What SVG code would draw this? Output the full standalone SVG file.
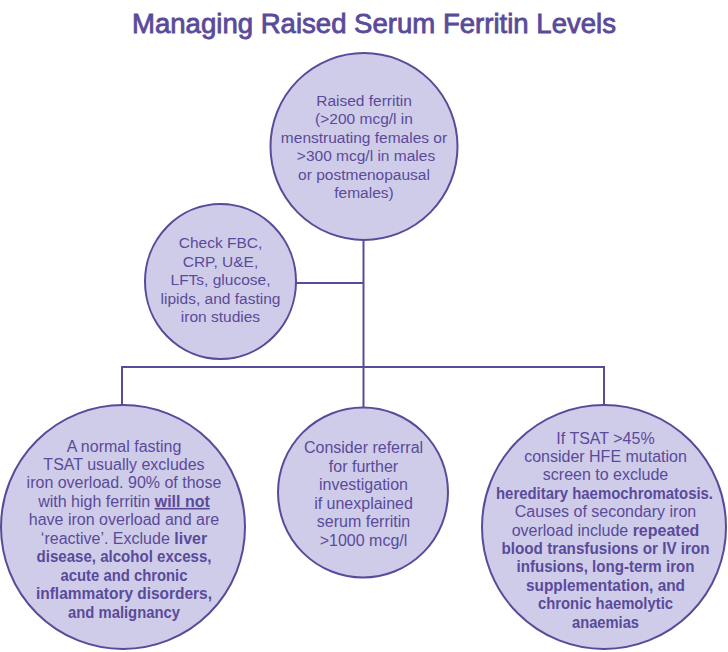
<svg xmlns="http://www.w3.org/2000/svg" width="728" height="652" viewBox="0 0 728 652">
<style>
  .node { fill: #cfcce9; stroke: #5a4a9a; stroke-width: 2; }
  .conn { stroke: #5a4a9a; stroke-width: 2; fill: none; }
  text { font-family: "Liberation Sans", Arial, sans-serif; fill: #5a4a9a; text-anchor: middle; }
  .t15 { font-size: 15.5px; }
  .t16 { font-size: 16px; }
  .b { font-weight: bold; }
  .title { font-size: 27px; stroke: #5a4a9a; stroke-width: 0.8; }
</style>
<rect width="728" height="652" fill="#ffffff"/>
<text class="title" x="374" y="32.5" textLength="484" lengthAdjust="spacingAndGlyphs">Managing Raised Serum Ferritin Levels</text>

<g id="connectors">
  <line class="conn" x1="363.5" y1="239" x2="363.5" y2="367"/>
  <line class="conn" x1="296" y1="283" x2="363.5" y2="283"/>
  <polyline class="conn" points="122,406 122,367 604,367 604,406"/>
  <line class="conn" x1="363.5" y1="367" x2="363.5" y2="407"/>
</g>

<g id="node-raised">
  <circle class="node" cx="364" cy="146.5" r="93.5"/>
  <text class="t15" x="364" y="105.5">Raised ferritin</text>
  <text class="t15" x="364" y="124">(&gt;200 mcg/l in</text>
  <text class="t15" x="364" y="142.5">menstruating females or</text>
  <text class="t15" x="366" y="161">&gt;300 mcg/l in males</text>
  <text class="t15" x="364" y="179.5">or postmenopausal</text>
  <text class="t15" x="364" y="198">females)</text>
</g>

<g id="node-check">
  <ellipse class="node" cx="220.5" cy="281.5" rx="75.5" ry="77.5"/>
  <text class="t15" x="220.5" y="248">Check FBC,</text>
  <text class="t15" x="220.5" y="266.5">CRP, U&amp;E,</text>
  <text class="t15" x="220.5" y="285">LFTs, glucose,</text>
  <text class="t15" x="220.5" y="303.5">lipids, and fasting</text>
  <text class="t15" x="220.5" y="322">iron studies</text>
</g>

<g id="node-normal">
  <circle class="node" cx="123" cy="527" r="122"/>
  <text class="t16" x="124" y="451.5">A normal fasting</text>
  <text class="t16" x="124" y="470">TSAT usually excludes</text>
  <text class="t16" x="124" y="488.4">iron overload. 90% of those</text>
  <text class="t16" x="124" y="506.9">with high ferritin <tspan class="b" text-decoration="underline">will not</tspan></text>
  <text class="t16" x="124" y="525.3">have iron overload and are</text>
  <text class="t16" x="124" y="543.8">‘reactive’. Exclude <tspan class="b">liver</tspan></text>
  <text class="t16 b" x="124" y="562.2" textLength="175" lengthAdjust="spacingAndGlyphs">disease, alcohol excess,</text>
  <text class="t16 b" x="124" y="580.7" textLength="127" lengthAdjust="spacingAndGlyphs">acute and chronic</text>
  <text class="t16 b" x="124" y="599.1" textLength="176" lengthAdjust="spacingAndGlyphs">inflammatory disorders,</text>
  <text class="t16 b" x="124" y="617.6" textLength="112" lengthAdjust="spacingAndGlyphs">and malignancy</text>
</g>

<g id="node-referral">
  <circle class="node" cx="363" cy="492.5" r="85"/>
  <text class="t16" x="363.5" y="453">Consider referral</text>
  <text class="t16" x="363.5" y="471.5">for further</text>
  <text class="t16" x="363.5" y="490">investigation</text>
  <text class="t16" x="363.5" y="508.5">if unexplained</text>
  <text class="t16" x="363.5" y="527">serum ferritin</text>
  <text class="t16" x="363.5" y="545.5">&gt;1000 mcg/l</text>
</g>

<g id="node-tsat">
  <circle class="node" cx="604" cy="527" r="122"/>
  <text class="t16" x="605.5" y="443.5">If TSAT &gt;45%</text>
  <text class="t16" x="605.5" y="461.9">consider HFE mutation</text>
  <text class="t16" x="605.5" y="480.3">screen to exclude</text>
  <text class="t16 b" x="604.5" y="498.7" textLength="217" lengthAdjust="spacingAndGlyphs">hereditary haemochromatosis.</text>
  <text class="t16" x="605.5" y="517.1">Causes of secondary iron</text>
  <text class="t16" x="605.5" y="535.5">overload include <tspan class="b">repeated</tspan></text>
  <text class="t16 b" x="605.5" y="553.9" textLength="208" lengthAdjust="spacingAndGlyphs">blood transfusions or IV iron</text>
  <text class="t16 b" x="605.5" y="572.3" textLength="178" lengthAdjust="spacingAndGlyphs">infusions, long-term iron</text>
  <text class="t16 b" x="605.5" y="590.7" textLength="159" lengthAdjust="spacingAndGlyphs">supplementation, and</text>
  <text class="t16 b" x="605.5" y="609.1" textLength="135" lengthAdjust="spacingAndGlyphs">chronic haemolytic</text>
  <text class="t16 b" x="605.5" y="627.5" textLength="67" lengthAdjust="spacingAndGlyphs">anaemias</text>
</g>
</svg>
